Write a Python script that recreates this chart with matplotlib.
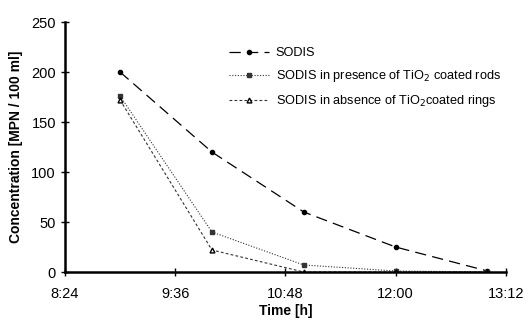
import matplotlib
matplotlib.use("Agg")
import matplotlib.pyplot as plt

plt.rcParams['font.family'] = ['Liberation Sans', 'DejaVu Sans']

times = ["9:00", "10:00", "11:00", "12:00", "13:00"]
sodis = [200, 120, 60, 25, 1]
rods = [176, 40, 7, 1, 0]
rings = [172, 22, 0, 0, 0]
xtick_labels = ["8:24", "9:36", "10:48", "12:00", "13:12"]
yticks = [0, 50, 100, 150, 200, 250]

def to_h(s):
    h, m = s.split(":")
    return int(h) + int(m) / 60.0

x = [to_h(t) for t in times]
xt = [to_h(t) for t in xtick_labels]

fig = plt.figure(figsize=(5.26, 3.2), dpi=100)
ax = fig.add_axes([0.1236, 0.15, 0.838, 0.781])

ax.plot(x, sodis, color='black', lw=0.9, dashes=(9, 5), marker='o', ms=3,
        label='SODIS')
ax.plot(x, rods, color='#333333', lw=0.8, linestyle=(0, (1, 1.5)), marker='s', ms=3,
        label='SODIS in presence of TiO$_2$ coated rods')
ax.plot(x, rings, color='#333333', lw=0.8, linestyle=(0, (2.5, 2)), marker='^', ms=3.5,
        mfc='white', mec='black', label='SODIS in absence of TiO$_2$coated rings')

ax.set_xlim(xt[0], xt[-1])
ax.set_ylim(0, 250)
ax.set_xticks(xt)
ax.set_xticklabels(xtick_labels)
ax.set_yticks(yticks)
for s in ['top', 'right']:
    ax.spines[s].set_visible(False)
for s in ['left', 'bottom']:
    ax.spines[s].set_linewidth(1.8)
ax.tick_params(direction='inout', length=6, width=1, labelsize=10.5)
ax.tick_params(axis='x', pad=8)
ax.set_xlabel('Time [h]', fontweight='bold', fontsize=10, labelpad=2)
ax.set_ylabel('Concentration [MPN / 100 ml]', fontweight='bold', fontsize=10, labelpad=6)

ax.legend(loc='upper left', bbox_to_anchor=(0.345, 0.945), frameon=False,
          fontsize=9.2, handlelength=3.2, labelspacing=0.7, handletextpad=0.5)

fig.savefig('out.png', dpi=100)
